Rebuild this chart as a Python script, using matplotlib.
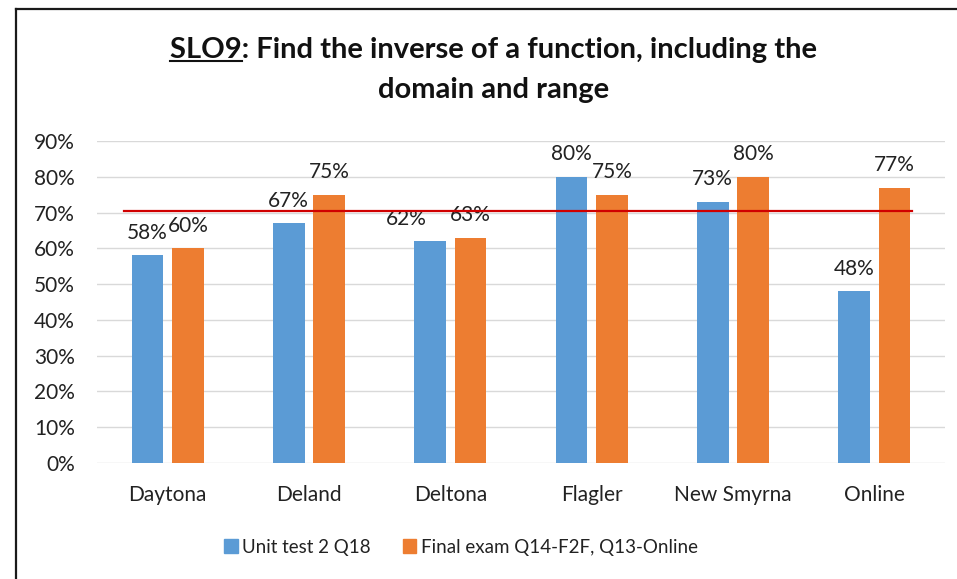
import numpy as np
import matplotlib
matplotlib.use('Agg')
import matplotlib.pyplot as plt
from matplotlib.patches import Patch
from matplotlib.lines import Line2D

# Data
campuses = ['Daytona', 'Deland', 'Deltona', 'Flagler', 'New Smyrna', 'Online']
unit_test = [0.58, 0.67, 0.62, 0.80, 0.73, 0.48]
final_exam = [0.60, 0.75, 0.63, 0.75, 0.80, 0.77]
series_names = ['Unit test 2 Q18', 'Final exam Q14-F2F, Q13-Online']
target = 0.705
target_span = [-0.31, 5.27]
y_ticks = np.arange(0, 1.0, 0.1)

BLUE = '#5B9BD5'
ORANGE = '#ED7D31'
RED = '#D00000'
GRID = '#D9D9D9'

# label nudged by hand in the original (series, index) -> dx in points
label_nudge = {(0, 2): -17}

plt.rcParams['font.family'] = ['Lato', 'DejaVu Sans']

W, H = 957, 579
fig = plt.figure(figsize=(W / 100, H / 100), dpi=100)
ax = fig.add_axes([97 / W, (H - 463) / H, 848 / W, (463 - 141) / H])

x = np.arange(len(campuses))
bw = 0.223
off = 0.143
b1 = ax.bar(x - off, unit_test, bw, color=BLUE, zorder=3)
b2 = ax.bar(x + off, final_exam, bw, color=ORANGE, zorder=3)

for si, (bars, vals) in enumerate(((b1, unit_test), (b2, final_exam))):
    for i, (rect, v) in enumerate(zip(bars, vals)):
        dx = label_nudge.get((si, i), 0)
        ax.annotate(f'{v:.0%}', (rect.get_x() + rect.get_width() / 2, v),
                    xytext=(dx, 12), textcoords='offset points',
                    ha='center', va='baseline', fontsize=15, color='#222222')

# target line
ax.plot(target_span, [target, target], color=RED, lw=1.6, zorder=4)

ax.set_xlim(-0.5, len(campuses) - 0.5)
ax.set_ylim(0, 0.9)
ax.set_yticks(y_ticks)
ax.set_yticklabels([f'{t:.0%}' for t in y_ticks])
ax.set_xticks(x)
ax.set_xticklabels(campuses)
ax.tick_params(axis='y', length=0, pad=16, labelsize=15, labelcolor='#222222')
ax.tick_params(axis='x', length=0, pad=16, labelsize=15, labelcolor='#222222')
ax.yaxis.grid(True, color=GRID, lw=1.0, zorder=0)
ax.set_axisbelow(True)
for s in ax.spines.values():
    s.set_visible(False)

# title, two lines, "SLO9" underlined
title1 = 'SLO9: Find the inverse of a function, including the'
title2 = 'domain and range'
tx = 494 / W
tfs = 21
t1 = fig.text(tx, (H - 58) / H, title1, ha='center', va='baseline',
              fontsize=tfs, fontweight='bold', color='#111111')
fig.text(tx, (H - 98) / H, title2, ha='center', va='baseline',
         fontsize=tfs, fontweight='bold', color='#111111')
renderer = fig.canvas.get_renderer()
bb = t1.get_window_extent(renderer)
tmp = fig.text(0, 0, 'SLO9', fontsize=tfs, fontweight='bold')
w_slo = tmp.get_window_extent(renderer).width
tmp.remove()
uy = (H - 58 - 3) / H
fig.add_artist(Line2D([bb.x0 / W, (bb.x0 + w_slo) / W], [uy, uy],
                      color='#111111', lw=1.5))

# legend
handles = [Patch(color=BLUE), Patch(color=ORANGE)]
fig.legend(handles, series_names, loc='center', bbox_to_anchor=(461 / W, (H - 547) / H),
           ncol=2, frameon=False, fontsize=13.5, handlelength=0.7, handleheight=0.7,
           handletextpad=0.25, columnspacing=1.7, labelcolor='#222222')

# chart frame (left and top edges visible)
fig.add_artist(Line2D([15.5 / W, 15.5 / W], [0, (H - 9) / H], color='#1a1a1a', lw=1.6))
fig.add_artist(Line2D([15.5 / W, 1], [(H - 9) / H, (H - 9) / H], color='#1a1a1a', lw=1.6))

fig.savefig('out.png', dpi=100)
